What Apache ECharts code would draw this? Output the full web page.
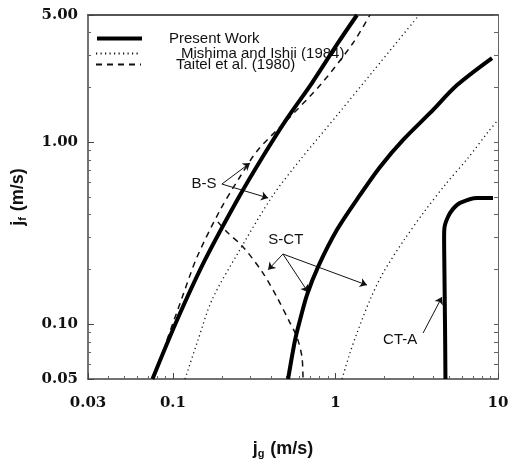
<!DOCTYPE html>
<html><head><meta charset="utf-8">
<script src="https://cdn.jsdelivr.net/npm/echarts@6/dist/echarts.min.js"></script>
<style>html,body{margin:0;padding:0;background:#fff}#c{width:517px;height:467px}</style>
</head><body><div id="c"></div>
<script>
// ---- data (jg, jf in m/s) ----
const presentBS_x = [0.0748, 0.106, 0.1574, 0.2546, 0.356, 0.4955, 0.716, 1.036, 1.356];
const presentBS_y = [0.05, 0.1055, 0.2254, 0.5, 0.830, 1.324, 2.115, 3.51, 5.0];
const presentSCT_x = [0.511, 0.564, 0.605, 0.668, 0.780, 1.021, 1.376, 1.88, 2.64, 3.82, 5.60, 9.19];
const presentSCT_y = [0.05, 0.0819, 0.1055, 0.145, 0.206, 0.330, 0.494, 0.731, 1.042, 1.448, 2.06, 2.90];
const presentCTA_x = [4.75, 4.72, 4.68, 4.66, 4.68, 4.92, 5.29, 5.84, 7.43, 9.32];
const presentCTA_y = [0.05, 0.10, 0.20, 0.301, 0.338, 0.388, 0.430, 0.464, 0.494, 0.494];
const mishimaBS_x = [0.1186, 0.1426, 0.1738, 0.251, 0.406, 0.605, 1.051, 1.726, 3.27];
const mishimaBS_y = [0.05, 0.0819, 0.136, 0.246, 0.5, 0.798, 1.448, 2.49, 5.0];
const mishimaSCT_x = [1.097, 1.228, 1.356, 1.63, 1.96, 2.64, 3.51, 4.72, 6.54, 8.68, 10];
const mishimaSCT_y = [0.05, 0.0695, 0.0895, 0.136, 0.191, 0.290, 0.414, 0.582, 0.819, 1.138, 1.324];
const taitelBS_x = [0.0918, 0.1154, 0.1406, 0.195, 0.258, 0.333, 0.504, 0.826, 1.282, 1.63];
const taitelBS_y = [0.0819, 0.145, 0.234, 0.424, 0.644, 0.906, 1.324, 2.115, 3.51, 5.0];
const taitelSCT_x = [0.189, 0.215, 0.270, 0.358, 0.436, 0.525, 0.579, 0.622, 0.631];
const taitelSCT_y = [0.365, 0.321, 0.266, 0.191, 0.141, 0.1016, 0.0851, 0.066, 0.05];

const seriesNames = ['Present Work', 'Mishima and Ishii (1984)', 'Taitel et al. (1980)'];

const xTickVals = [0.03, 0.1, 1, 10];
const xTickLabels = ['0.03', '0.1', '1', '10'];
const yTickVals = [0.05, 0.1, 1, 5];
const yTickLabels = ['0.05', '0.10', '1.00', '5.00'];
const xMinorVals = [0.04,0.05,0.06,0.07,0.08,0.09,0.2,0.3,0.4,0.5,0.6,0.7,0.8,0.9,2,3,4,5,6,7,8,9];
const yMinorVals = [0.06,0.07,0.08,0.09,0.2,0.3,0.4,0.5,0.6,0.7,0.8,0.9,2,3,4];

// annotations
const annLabels = ['B-S', 'S-CT', 'CT-A'];
const annLabelPos = [[0.155, 0.589], [0.495, 0.290], [2.50, 0.0819]];
const annArrows = [
  [0.200, 0.589, 0.298, 0.769],
  [0.200, 0.589, 0.385, 0.494],
  [0.475, 0.243, 0.385, 0.199],
  [0.475, 0.243, 0.678, 0.150],
  [0.475, 0.243, 1.563, 0.164],
  [3.46, 0.0895, 4.52, 0.141]
];

function nearestLabel(v, vals, labels) {
  let best = 0, bd = Infinity;
  for (let i = 0; i < vals.length; i++) {
    const d = Math.abs(Math.log(v) - Math.log(vals[i]));
    if (d < bd) { bd = d; best = i; }
  }
  return bd < 0.05 ? labels[best] : '';
}
const pair = (xs, ys) => xs.map((x, i) => [x, ys[i]]);

const styles = {
  present: { color: '#000', width: 4, type: 'solid' },
  mishima: { color: '#111', width: 1.3, type: [1.2, 3.3] },
  taitel: { color: '#111', width: 1.5, type: [6, 5] }
};
function mk(name, xs, ys, st, extra) {
  return Object.assign({
    type: 'line', name: name, data: pair(xs, ys), symbol: 'none', smooth: 0.3,
    lineStyle: st, itemStyle: { color: st.color }, clip: true, animation: false, silent: true
  }, extra || {});
}

const axisColor = '#444';
const labelFont = { fontFamily: 'DejaVu Serif', fontWeight: 'bold', fontSize: 15, color: '#111' };
const titleRich = {
  j: { fontFamily: 'Liberation Sans', fontWeight: 'bold', fontSize: 18, color: '#111' },
  s: { fontFamily: 'Liberation Sans', fontWeight: 'bold', fontSize: 11, color: '#111', padding: [9, 1, 0, 0] },
  r: { fontFamily: 'Liberation Sans', fontWeight: 'bold', fontSize: 18, color: '#111' }
};

const chart = echarts.init(document.getElementById('c'), null, { renderer: 'canvas' });
const legendCommon = {
  orient: 'vertical', padding: 0, itemWidth: 45, itemHeight: 14, selectedMode: false,
  itemStyle: { opacity: 0 },
  textStyle: { fontFamily: 'Liberation Sans', fontSize: 15, color: '#111', lineHeight: 14 }
};
chart.setOption({
  animation: false,
  backgroundColor: '#fff',
  grid: { left: 88, top: 15, right: 19, bottom: 88, containLabel: false },
  legend: [
    Object.assign({}, legendCommon, { data: [seriesNames[0]], left: 95, top: 31,
      lineStyle: { width: 4 },
      textStyle: Object.assign({}, legendCommon.textStyle, { padding: [0, 0, 0, 22] }) }),
    Object.assign({}, legendCommon, { data: [seriesNames[1]], left: 95, top: 46,
      textStyle: Object.assign({}, legendCommon.textStyle, { padding: [0, 0, 0, 35] }) }),
    Object.assign({}, legendCommon, { data: [seriesNames[2]], left: 95, top: 57,
      textStyle: Object.assign({}, legendCommon.textStyle, { padding: [0, 0, 0, 30] }) })
  ],
  xAxis: [
    { type: 'log', logBase: 10, min: 0.03, max: 10, position: 'bottom',
      axisLine: { show: true, lineStyle: { color: axisColor, width: 1.5 } },
      axisTick: { show: true, inside: true, length: 6, customValues: xTickVals, lineStyle: { color: axisColor } },
      axisLabel: Object.assign({ customValues: xTickVals, margin: 17,
        formatter: v => nearestLabel(v, xTickVals, xTickLabels) }, labelFont),
      splitLine: { show: false }, minorTick: { show: false },
      name: '{j|j}{s|g}{r| (m/s)}', nameLocation: 'middle', nameGap: 60,
      nameTextStyle: { rich: titleRich, padding: [0, 20, 0, 0] }
    },
    { type: 'log', logBase: 10, min: 0.03, max: 10, position: 'bottom',
      axisLine: { show: false },
      axisTick: { show: true, inside: true, length: 3, customValues: xMinorVals, lineStyle: { color: '#666' } },
      axisLabel: { show: false }, splitLine: { show: false } },
    { type: 'log', logBase: 10, min: 0.03, max: 10, position: 'top',
      axisLine: { show: true, lineStyle: { color: '#555', width: 2 } },
      axisTick: { show: false }, axisLabel: { show: false }, splitLine: { show: false } }
  ],
  yAxis: [
    { type: 'log', logBase: 10, min: 0.05, max: 5, position: 'left',
      axisLine: { show: true, lineStyle: { color: axisColor, width: 1.5 } },
      axisTick: { show: true, inside: true, length: 6, customValues: yTickVals, lineStyle: { color: axisColor } },
      axisLabel: Object.assign({ customValues: yTickVals, margin: 10,
        formatter: v => nearestLabel(v, yTickVals, yTickLabels) }, labelFont),
      splitLine: { show: false },
      name: '{j|j}{s|f}{r| (m/s)}', nameLocation: 'middle', nameGap: 60, nameRotate: 90,
      nameTextStyle: { rich: titleRich }
    },
    { type: 'log', logBase: 10, min: 0.05, max: 5, position: 'left',
      axisLine: { show: false },
      axisTick: { show: true, inside: true, length: 3, customValues: yMinorVals, lineStyle: { color: '#666' } },
      axisLabel: { show: false }, splitLine: { show: false } },
    { type: 'log', logBase: 10, min: 0.05, max: 5, position: 'right',
      axisLine: { show: true, lineStyle: { color: '#666', width: 1 } },
      axisTick: { show: true, inside: true, length: 4, customValues: yTickVals.concat(yMinorVals), lineStyle: { color: '#666' } },
      axisLabel: { show: false }, splitLine: { show: false } }
  ],
  series: [
    mk(seriesNames[0], presentBS_x, presentBS_y, styles.present, {
      z: 5,
      markLine: {
        silent: true, animation: false, symbol: ['none', 'arrow'], symbolSize: 7,
        lineStyle: { color: '#111', width: 1, type: 'solid' }, label: { show: false },
        emphasis: { disabled: true },
        data: annArrows.map(a => [{ coord: [a[0], a[1]] }, { coord: [a[2], a[3]] }])
      },
      markPoint: {
        silent: true, animation: false, symbol: 'circle', symbolSize: 0,
        itemStyle: { color: 'rgba(0,0,0,0)' },
        label: { show: true, position: 'inside', formatter: '{b}', color: '#111',
          fontFamily: 'Liberation Sans', fontSize: 15 },
        data: annLabels.map((t, i) => ({ name: t, coord: annLabelPos[i] }))
      }
    }),
    mk(seriesNames[0], presentSCT_x, presentSCT_y, styles.present, { z: 5 }),
    mk(seriesNames[0], presentCTA_x, presentCTA_y, styles.present, { z: 5, smooth: 0.35 }),
    mk(seriesNames[1], mishimaBS_x, mishimaBS_y, styles.mishima),
    mk(seriesNames[1], mishimaSCT_x, mishimaSCT_y, styles.mishima),
    mk(seriesNames[2], taitelBS_x, taitelBS_y, styles.taitel),
    mk(seriesNames[2], taitelSCT_x, taitelSCT_y, styles.taitel)
  ]
});
</script>
</body></html>
